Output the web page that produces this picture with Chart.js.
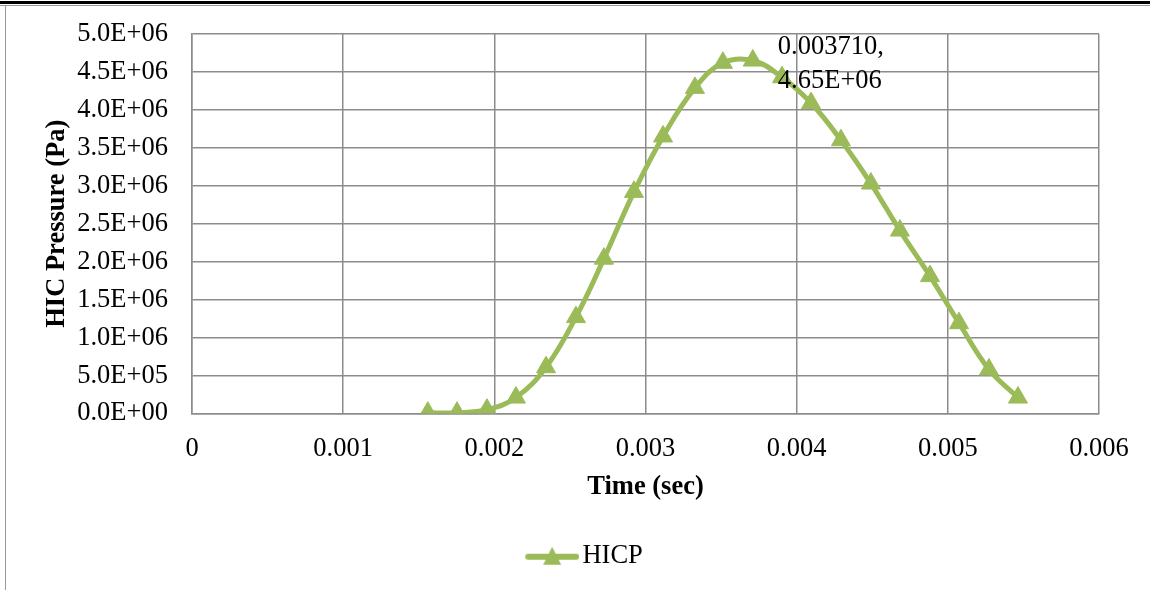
<!DOCTYPE html>
<html>
<head>
<meta charset="utf-8">
<script src="https://cdn.jsdelivr.net/npm/chart.js@4/dist/chart.umd.min.js"></script>
<style>
  html, body { margin: 0; padding: 0; background: #fff; }
  #wrap { position: relative; width: 1155px; height: 590px; overflow: hidden; }
  #chart { position: absolute; left: 0; top: 0; }
  .topline { position: absolute; left: 0; top: 1px; width: 1150px; height: 3px; background: #000; }
  .topline2 { position: absolute; left: 0; top: 5px; width: 1150px; height: 1px; background: #999; }
  .leftline { position: absolute; left: 5px; top: 5px; width: 1px; height: 585px; background: #999; }
</style>
</head>
<body>
<div id="wrap">
  <canvas id="chart" width="1155" height="590"></canvas>
  <div class="topline"></div>
  <div class="topline2"></div>
  <div class="leftline"></div>
</div>
<script>
// HIC pressure vs time
const seriesName = "HICP"
const timeSec = [0.00156, 0.001753, 0.001951, 0.002143, 0.002342, 0.00254, 0.002725,
  0.002924, 0.003116, 0.003327, 0.003512, 0.00371, 0.003903, 0.004095, 0.004293,
  0.004491, 0.004683, 0.004882, 0.005074, 0.005272, 0.005464]
const pressurePa = [0.01e6, 0.01e6, 0.05e6, 0.21e6, 0.61e6, 1.27e6, 2.04e6,
  2.92e6, 3.65e6, 4.29e6, 4.62e6, 4.65e6, 4.43e6, 4.09e6, 3.6e6,
  3.03e6, 2.41e6, 1.81e6, 1.19e6, 0.58e6, 0.21e6]
const labelIndex = 11
const labelLines = ["0.003710,", "4.65E+06"]

const green = "#9BBB59"
const grid = "#8c8c8c"
const serif = "'Liberation Serif', 'Times New Roman', serif"
const fontSize = 26.5

function sci(v) {
  const [m, e] = v.toExponential(1).toUpperCase().split("E")
  const sign = e[0] === "-" ? "-" : "+"
  const digits = e.replace(/[+-]/, "").padStart(2, "0")
  return m + "E" + sign + digits
}

// legend swatch: line with a triangle marker in the middle (left part left empty)
const swatch = document.createElement("canvas")
swatch.width = 96
swatch.height = 24
{
  const c = swatch.getContext("2d")
  c.strokeStyle = green
  c.lineWidth = 6
  c.lineCap = "round"
  c.beginPath(); c.moveTo(45, 13); c.lineTo(93, 13); c.stroke()
  c.fillStyle = green
  c.beginPath(); c.moveTo(69, 3); c.lineTo(78, 21); c.lineTo(60, 21); c.closePath(); c.fill()
}

const pointLabel = {
  id: "pointLabel",
  afterDatasetsDraw(chart) {
    const pt = chart.getDatasetMeta(0).data[labelIndex]
    const ctx = chart.ctx
    ctx.save()
    ctx.font = fontSize + "px " + serif
    ctx.fillStyle = "#000"
    ctx.textAlign = "left"
    ctx.textBaseline = "middle"
    ctx.fillText(labelLines[0], pt.x + 25, pt.y - 14)
    ctx.fillText(labelLines[1], pt.x + 25, pt.y + 20)
    ctx.restore()
  }
}

const data = timeSec.map((t, i) => ({ x: t, y: pressurePa[i] }))

new Chart(document.getElementById("chart"), {
  type: "scatter",
  data: {
    datasets: [{
      label: seriesName,
      data: data,
      showLine: true,
      borderColor: green,
      backgroundColor: green,
      borderWidth: 5,
      tension: 0.4,
      pointStyle: "triangle",
      pointRadius: 11,
      pointBorderWidth: 1,
      pointBackgroundColor: green,
      pointBorderColor: green
    }]
  },
  options: {
    responsive: false,
    animation: false,
    layout: { padding: { left: 37, top: 34, right: 56, bottom: 11 } },
    plugins: {
      tooltip: { enabled: false },
      legend: {
        position: "bottom",
        labels: {
          usePointStyle: true,
          pointStyle: swatch,
          pointStyleWidth: 76,
          color: "#000",
          font: { family: serif, size: fontSize },
          padding: 8
        }
      }
    },
    scales: {
      x: {
        type: "linear",
        min: 0,
        max: 0.006,
        ticks: {
          stepSize: 0.001,
          color: "#000",
          font: { family: serif, size: fontSize },
          padding: 20,
          maxRotation: 0,
          callback: v => v === 0 ? "0" : Number(v.toFixed(3)).toString()
        },
        grid: { color: grid, lineWidth: 1.5, drawTicks: false },
        border: { color: grid, width: 1.5 },
        title: {
          display: true,
          text: "Time (sec)",
          color: "#000",
          font: { family: serif, size: fontSize, weight: "bold" },
          padding: { top: 4, bottom: 31 }
        },
        afterFit: s => { s.height = 121 }
      },
      y: {
        min: 0,
        max: 5e6,
        ticks: {
          stepSize: 5e5,
          color: "#000",
          font: { family: serif, size: fontSize },
          padding: 24,
          callback: v => sci(v)
        },
        grid: { color: grid, lineWidth: 1.5, drawTicks: false },
        border: { color: grid, width: 1.5 },
        title: {
          display: true,
          text: "HIC Pressure (Pa)",
          color: "#000",
          font: { family: serif, size: fontSize, weight: "bold" },
          padding: { bottom: 6 }
        },
        afterFit: s => { s.width = 155; s.paddingTop = 0; s.paddingBottom = 0 }
      }
    }
  },
  plugins: [pointLabel]
})
</script>
</body>
</html>
